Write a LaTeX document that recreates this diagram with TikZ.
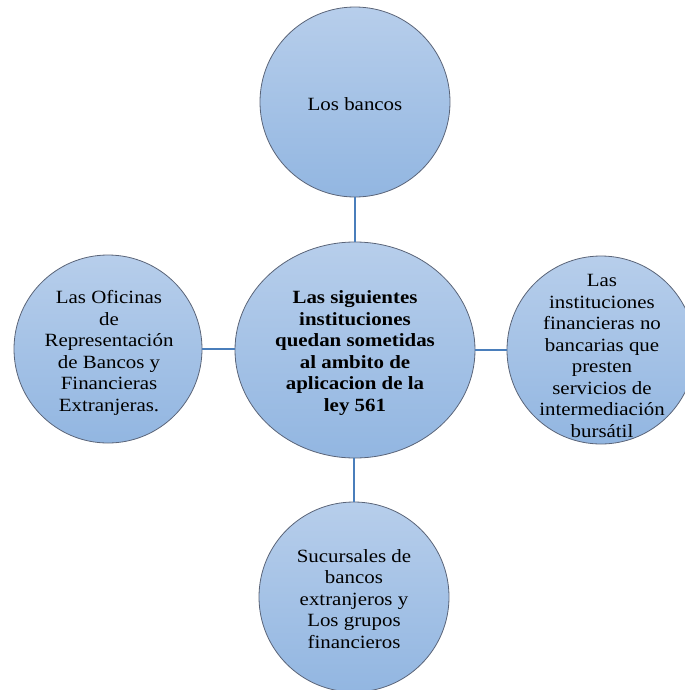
\documentclass[tikz,border=0pt]{standalone}
\usepackage{fontspec}
\setmainfont{Liberation Serif}[FakeStretch=1.12]
\usetikzlibrary{shapes.geometric}
\definecolor{fillTop}{RGB}{183,206,235}
\definecolor{fillBot}{RGB}{146,182,225}
\definecolor{rim}{RGB}{90,100,120}
\definecolor{linkBlue}{RGB}{74,126,187}
\tikzset{
  bubble/.style={circle, inner sep=0pt, minimum size=141pt, top color=fillTop, bottom color=fillBot, draw=rim, line width=0.6pt},
  hub/.style={ellipse, inner sep=0pt, minimum width=180pt, minimum height=162pt, top color=fillTop, bottom color=fillBot, draw=rim, line width=0.6pt},
  txt/.style={align=center, inner sep=0pt, font=\fontsize{14}{16.1}\selectfont},
  hubtxt/.style={txt, font=\fontsize{14}{16.1}\selectfont\bfseries},
  link/.style={draw=linkBlue, line width=2pt}
}
\begin{document}
\begin{tikzpicture}[x=0.75pt,y=-0.75pt]
\useasboundingbox (0,0) rectangle (685,690);
\node[hub] (c) at (355,350) {};
\node[bubble, minimum size=142.5pt] (t) at (355,102) {};
\node[bubble, minimum size=142.5pt] (b) at (354,597) {};
\node[bubble] (l) at (108,349) {};
\node[bubble] (r) at (601,350) {};
\draw[link] (t.south) -- (t.south |- c.north);
\draw[link] (b.north) -- (b.north |- c.south);
\draw[link] (l.east) -- (l.east -| c.west);
\draw[link] (r.west) -- (r.west -| c.east);
\node[hubtxt] (ct) at (355,353) {Las siguientes\\instituciones\\quedan sometidas\\al ambito de\\aplicacion de la\\ley 561};
\node[txt] (tt) at (355,104) {Los bancos};
\node[txt] (bt) at (354,599) {Sucursales de\\bancos\\extranjeros y\\Los grupos\\financieros};
\node[txt] (lt) at (109,353) {Las Oficinas\\de\\Representación\\de Bancos y\\Financieras\\Extranjeras.};
\node[txt] (rt) at (602,356) {Las\\instituciones\\financieras no\\bancarias que\\presten\\servicios de\\intermediación\\bursátil};
\end{tikzpicture}
\end{document}
